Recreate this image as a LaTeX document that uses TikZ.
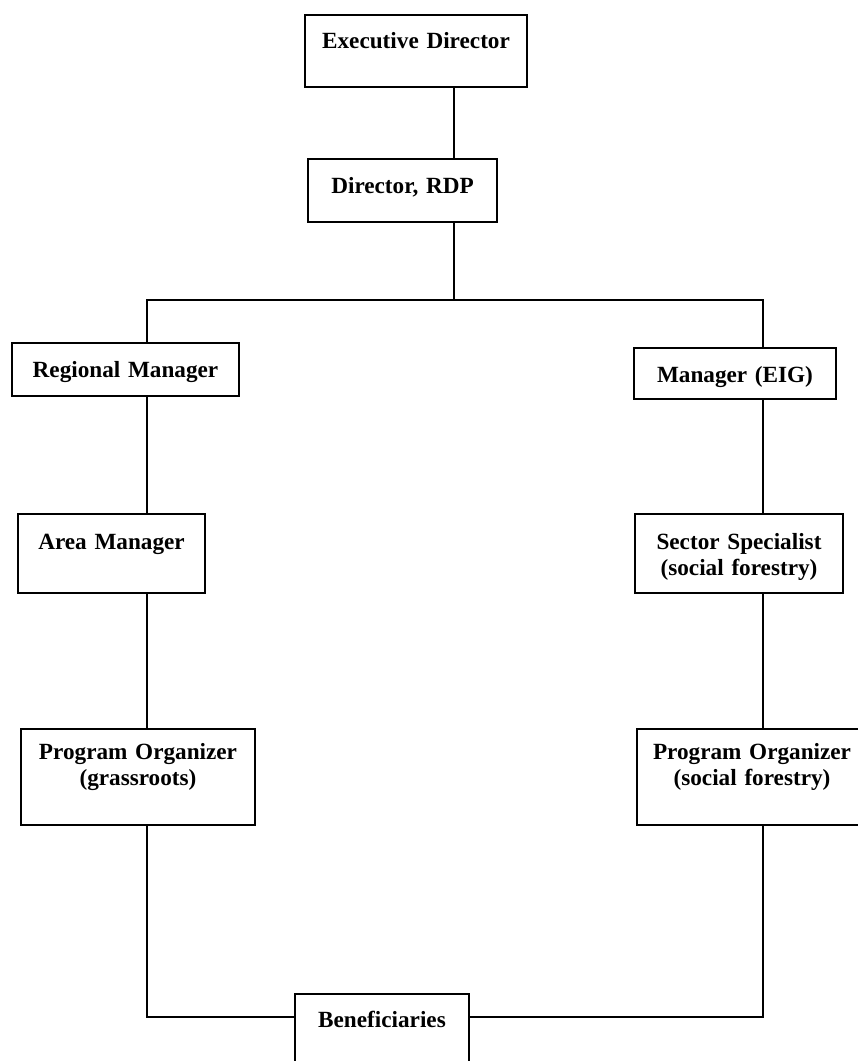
\documentclass[tikz,border=0pt]{standalone}
\usepackage{fontspec}
\setmainfont{Liberation Serif}
\usetikzlibrary{calc}

\begin{document}
\begin{tikzpicture}[
  x=0.025cm, y=-0.025cm,
  box/.style={draw=black, line width=1.3pt, inner sep=0pt, align=center, anchor=base,
              font=\fontsize{16.5}{18.5}\selectfont\bfseries},
  link/.style={draw=black, line width=1.3pt}
]
\useasboundingbox (0,0) rectangle (857,1061);

% top of the chart
\node[box, text width=5.55cm, text height=0.825cm, text depth=0.975cm] (exec) at (416,48) {Executive Director};
\node[box, text width=4.725cm, text height=0.85cm, text depth=0.725cm] (rdp) at (402.5,193) {Director, RDP};

% spines
\coordinate (busM) at (454,300);
\coordinate (busL) at (147,300);
\coordinate (busR) at (763,300);
\coordinate (tie) at (0,1017);

% ---- left branch
\node[box, text width=5.675cm, text height=0.85cm, text depth=0.475cm] (regmgr) at (125.5,377) {Regional Manager};
\node[box, text width=4.675cm, text height=0.875cm, text depth=1.1cm] (areamgr) at (111.5,549) {Area Manager};
\node[box, text width=5.85cm, text height=0.75cm, text depth=1.65cm] (poroots) at (138,759) {Program Organizer\\(grassroots)};

% ---- right branch
\node[box, text width=5.05cm, text height=0.85cm, text depth=0.425cm] (eigmgr) at (735,382) {Manager (EIG)};
\node[box, text width=5.2cm, text height=0.875cm, text depth=1.1cm] (sector) at (739,549) {Sector Specialist\\(social forestry)};
\node[box, text width=5.75cm, text height=0.75cm, text depth=1.65cm] (poforest) at (752,759) {Program Organizer\\(social forestry)};

% ---- bottom
\node[box, text width=4.35cm, text height=0.825cm, text depth=1.2cm] (benef) at (382,1027) {Beneficiaries};

% connectors
\draw[link] (exec.south -| busM) -- (rdp.north -| busM);
\draw[link] (rdp.south -| busM) -- (busM);
\draw[link] (regmgr.north -| busL) |- (busR) -- (eigmgr.north -| busR);
\draw[link] (regmgr.south -| busL) -- (areamgr.north -| busL);
\draw[link] (areamgr.south -| busL) -- (poroots.north -| busL);
\draw[link] (eigmgr.south -| busR) -- (sector.north -| busR);
\draw[link] (sector.south -| busR) -- (poforest.north -| busR);
\draw[link] (poroots.south -| busL) |- (benef.west |- tie);
\draw[link] (poforest.south -| busR) |- (benef.east |- tie);
\end{tikzpicture}
\end{document}
